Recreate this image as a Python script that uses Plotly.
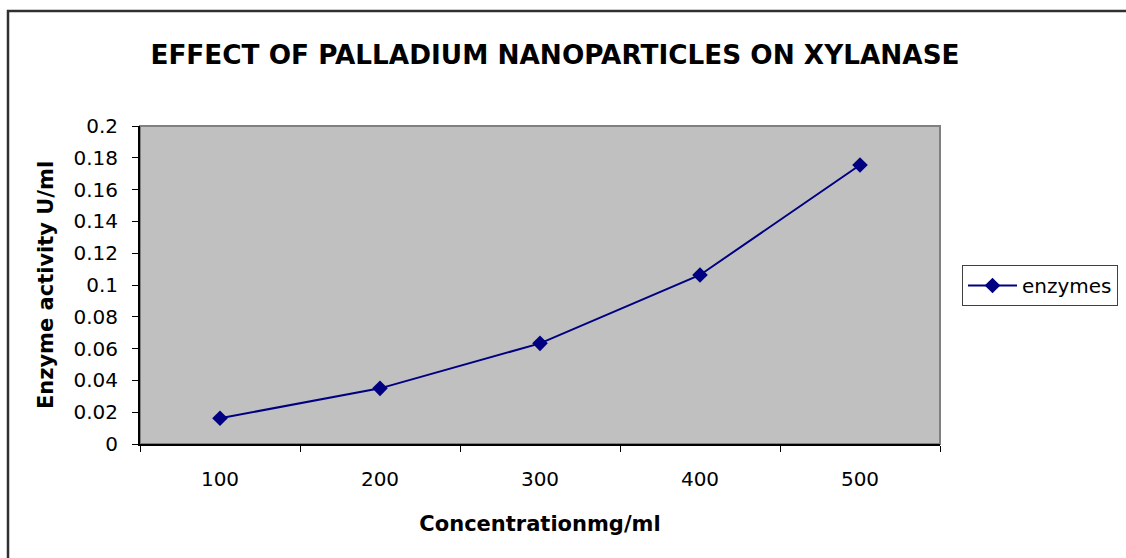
import plotly.graph_objects as go

categories = ["100", "200", "300", "400", "500"]
enzymes = [0.0162, 0.035, 0.0633, 0.1063, 0.1755]
y_ticks = [0, 0.02, 0.04, 0.06, 0.08, 0.1, 0.12, 0.14, 0.16, 0.18, 0.2]
y_labels = ["0", "0.02", "0.04", "0.06", "0.08", "0.1", "0.12", "0.14", "0.16", "0.18", "0.2"]

W, H = 1126, 558
# target plot area in page pixels
PX0, PX1, PY0, PY1 = 140, 940, 126, 444
L, T = PX0, PY0
R = W - PX1
B = H - PY1
pw, ph = PX1 - PX0, PY1 - PY0

def px_x(x):
    return (x - PX0) / pw

def px_y(y):
    return (PY1 - y) / ph

FONT = "DejaVu Sans"

fig = go.Figure()
fig.add_trace(go.Scatter(
    x=categories, y=enzymes, mode="lines+markers", name="enzymes",
    line=dict(color="#000080", width=2),
    marker=dict(symbol="diamond", size=12, color="#000080"),
))

fig.update_layout(
    width=W, height=H,
    margin=dict(l=L, r=R, t=T, b=B, pad=0, autoexpand=False),
    paper_bgcolor="white", plot_bgcolor="#C0C0C0",
    font=dict(family=FONT, size=20, color="black"),
    title=dict(text="<b>EFFECT OF PALLADIUM NANOPARTICLES ON XYLANASE</b>",
               font=dict(family=FONT, size=26.3, color="black"),
               x=px_x(555), xref="paper", xanchor="center",
               y=1 - 55 / H, yref="container", yanchor="middle"),
    showlegend=True,
    legend=dict(x=px_x(962), y=px_y(265), xanchor="left", yanchor="top",
                bordercolor="#404040", borderwidth=1, bgcolor="white",
                font=dict(family=FONT, size=20), itemwidth=49,
                tracegroupgap=0),
)

fig.update_xaxes(
    type="category", range=[-0.5, 4.5], tickson="boundaries",
    ticks="outside", ticklen=6, tickcolor="black", tickwidth=1,
    showline=True, linecolor="black", linewidth=2, showgrid=False, zeroline=False,
    ticklabelstandoff=16,
    title=dict(text="<b>Concentrationmg/ml</b>", font=dict(family=FONT, size=21), standoff=26),
)
fig.update_yaxes(
    range=[0, 0.2], tickvals=y_ticks, ticktext=y_labels,
    ticks="outside", ticklen=6, tickcolor="black", tickwidth=1,
    showline=True, linecolor="black", linewidth=2, showgrid=False, zeroline=False,
    ticklabelstandoff=10,
    title=dict(text="<b>Enzyme activity U/ml</b>", font=dict(family=FONT, size=21), standoff=14),
)

# plot area border (top/right gray)
fig.add_shape(type="rect", xref="paper", yref="paper", x0=0, x1=1, y0=0, y1=1,
              line=dict(color="#808080", width=2), layer="below")
# outer chart frame
fig.add_shape(type="rect", xref="paper", yref="paper",
              x0=px_x(8), x1=px_x(1200), y0=px_y(620), y1=px_y(11),
              line=dict(color="#303030", width=2.5), layer="below")

fig.write_html("out.html", config={"displayModeBar": False},
               post_script="document.body.style.margin='0';document.body.style.overflow='hidden';")
